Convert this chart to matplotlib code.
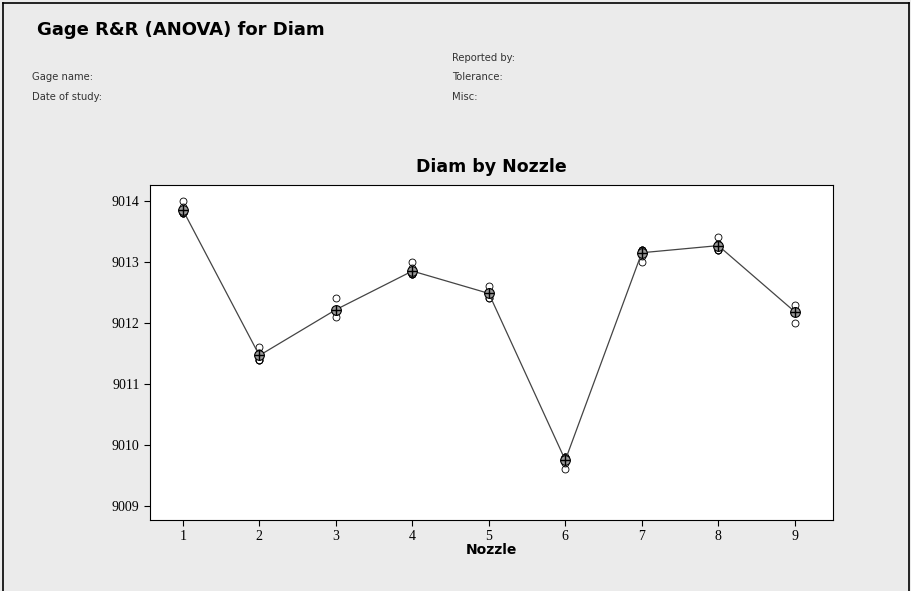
import numpy as np
import matplotlib.pyplot as plt
from matplotlib.lines import Line2D

# Podaci: mjerenja promjera po mlaznici
nozzles = [1, 2, 3, 4, 5, 6, 7, 8, 9]
diam = [
    [9014.0, 9013.8, 9013.8, 9013.8, 9013.8, 9013.9],
    [9011.6, 9011.4, 9011.4, 9011.5, 9011.5, 9011.4],
    [9012.4, 9012.1, 9012.2, 9012.2, 9012.2, 9012.2],
    [9013.0, 9012.8, 9012.8, 9012.8, 9012.9, 9012.8],
    [9012.6, 9012.4, 9012.5, 9012.5, 9012.4, 9012.5],
    [9009.8, 9009.6, 9009.8, 9009.8, 9009.7, 9009.8],
    [9013.2, 9013.0, 9013.2, 9013.2, 9013.1, 9013.2],
    [9013.4, 9013.2, 9013.3, 9013.2, 9013.3, 9013.2],
    [9012.3, 9012.0, 9012.2, 9012.2, 9012.2, 9012.2],
]
y_ticks = [9009, 9010, 9011, 9012, 9013, 9014]

means = [np.mean(v) for v in diam]

bg = '#ebebeb'
fig = plt.figure(figsize=(9.11, 5.91), dpi=100, facecolor=bg)

# okvir oko slike (gore, lijevo, desno)
fig.add_artist(Line2D([2.5/911, 2.5/911], [0, 1 - 2.5/591], color='black', lw=1.2))
fig.add_artist(Line2D([2.5/911, 909/911], [1 - 2.5/591, 1 - 2.5/591], color='black', lw=1.2))
fig.add_artist(Line2D([909/911, 909/911], [0, 1 - 2.5/591], color='black', lw=1.2))

# zaglavlje
fig.text(37/911, 1 - 30/591, 'Gage R&R (ANOVA) for Diam', fontsize=13,
         fontweight='bold', va='center', ha='left')
fig.text(32/911, 1 - 77/591, 'Gage name:', fontsize=7.2, color='#333333', va='center')
fig.text(32/911, 1 - 97/591, 'Date of study:', fontsize=7.2, color='#333333', va='center')
fig.text(452/911, 1 - 58/591, 'Reported by:', fontsize=7.2, color='#333333', va='center')
fig.text(452/911, 1 - 77/591, 'Tolerance:', fontsize=7.2, color='#333333', va='center')
fig.text(452/911, 1 - 97/591, 'Misc:', fontsize=7.2, color='#333333', va='center')

ax = fig.add_axes([150/911, 1 - 520/591, (833 - 150)/911, (520 - 185)/591])
ax.set_facecolor('white')

# pojedinačna mjerenja
for n, vals in zip(nozzles, diam):
    ax.plot([n] * len(vals), vals, 'o', mfc='none', mec='black', ms=5, mew=0.6)

# srednje vrijednosti i linija
ax.plot(nozzles, means, '-', color='#444444', lw=0.9)
ax.plot(nozzles, means, 'o', mfc='#999999', mec='black', ms=7, mew=0.8)
ax.plot(nozzles, means, '+', color='black', ms=7, mew=1.0)

ax.set_xlim(0.57, 9.5)
ax.set_ylim(9008.77, 9014.26)
ax.set_xticks(nozzles)
ax.set_yticks(y_ticks)
ax.tick_params(labelsize=10, length=4, width=0.8)
for lab in ax.get_xticklabels() + ax.get_yticklabels():
    lab.set_fontfamily('Liberation Serif')
for s in ax.spines.values():
    s.set_linewidth(0.8)

ax.set_title('Diam by Nozzle', fontsize=12.5, fontweight='bold', pad=9)
ax.set_xlabel('Nozzle', fontsize=10, fontweight='bold', labelpad=0)

plt.savefig('out.png', dpi=100, facecolor=bg)
